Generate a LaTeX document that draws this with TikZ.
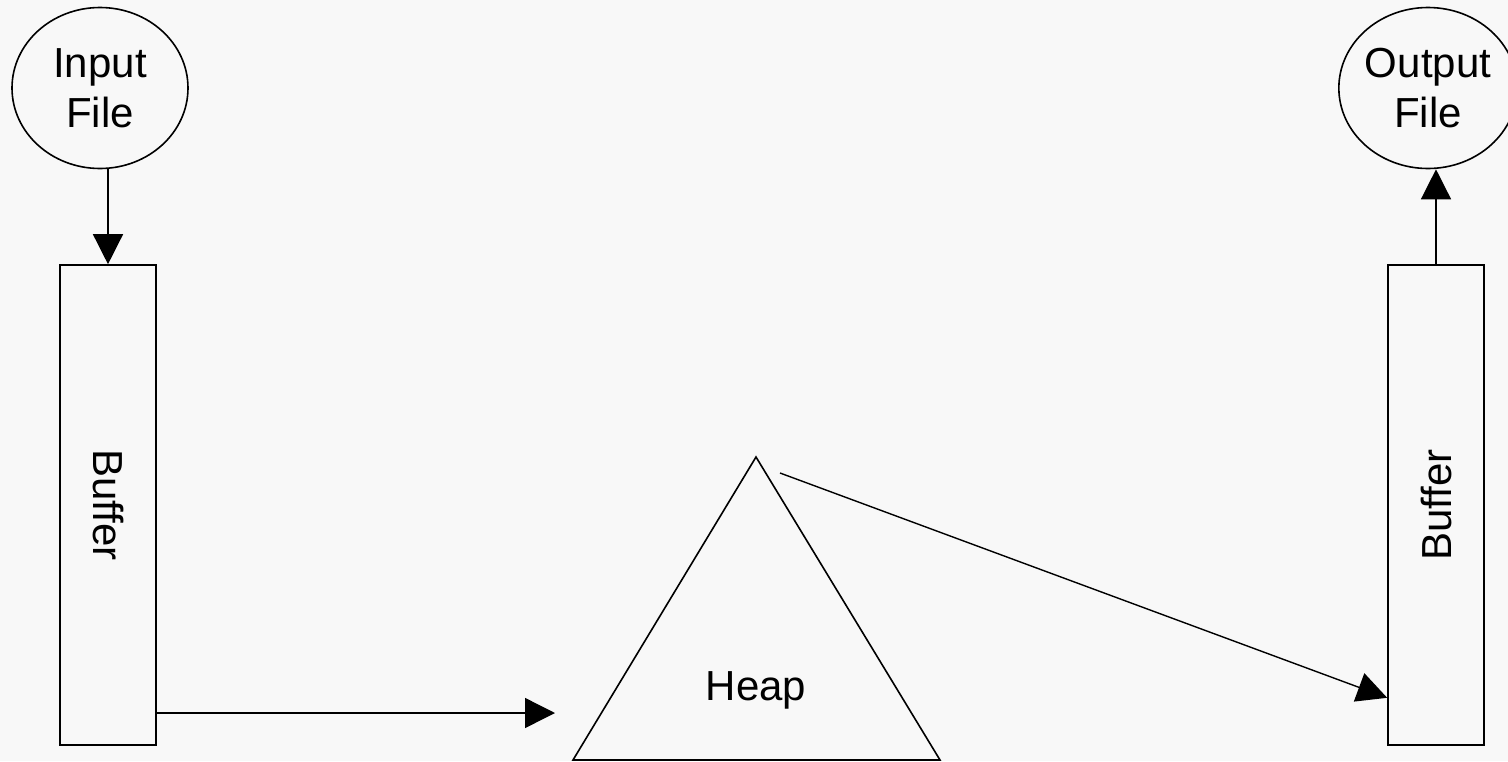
\documentclass[tikz,border=0pt]{standalone}
\usepackage{fontspec}
\setmainfont{Liberation Sans}
\usetikzlibrary{arrows.meta,shapes.geometric,calc}
\definecolor{bgcol}{HTML}{F8F8F8}
\begin{document}
\begin{tikzpicture}[x=1pt,y=-1pt,line width=1.6pt,
  lbl/.style={font=\fontsize{42}{50}\selectfont},
  filenode/.style={draw,ellipse,lbl,align=center,inner sep=0pt,minimum width=176pt,minimum height=161pt},
  bufnode/.style={draw,rectangle,lbl,inner sep=0pt,minimum width=96pt,minimum height=480pt},
  conn/.style={line width=1.4pt,-{Triangle[length=30pt,width=30pt]}}]
\fill[bgcol] (0,0) rectangle (1508,761);
\useasboundingbox (0,0) rectangle (1508,761);
\node[filenode] (in) at (100,88) {Input\\File};
\node[filenode] (out) at (1428,88) {Output\\File};
\node[bufnode] (lbuf) at (108,505) {\rotatebox{-90}{Buffer}};
\node[bufnode] (rbuf) at (1436,505) {\rotatebox{90}{Buffer}};
\coordinate (apex) at (756,457);
\coordinate (bl) at (573,760);
\coordinate (br) at (940,760);
\draw (apex) -- (br) -- (bl) -- cycle;
\node[lbl,inner sep=0pt] (heap) at (756,690) {Heap};
\coordinate (heapin) at (555,713);
\coordinate (heapout) at (780,473);
\draw[conn] (in.south -| lbuf.north) -- (lbuf.north);
\draw[conn] (rbuf.north) -- (out.south -| rbuf.north);
\draw[conn] (lbuf.south east |- heapin) -- (heapin);
\draw[conn] (heapout) -- ($(rbuf.south west)+(0,-48)$);
\end{tikzpicture}
\end{document}
